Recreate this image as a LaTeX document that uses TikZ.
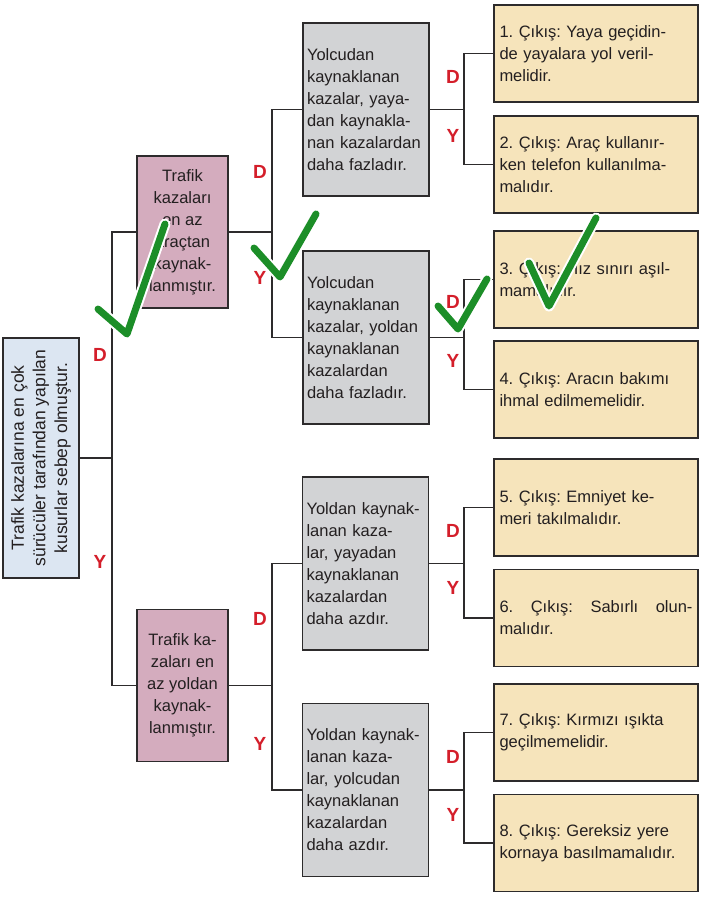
\documentclass[tikz,border=0pt]{standalone}
\usepackage{fontspec}
\setmainfont{Liberation Sans}
\frenchspacing
\definecolor{rootblue}{RGB}{220,230,242}
\definecolor{pinkbox}{RGB}{212,172,190}
\definecolor{graybox}{RGB}{210,211,213}
\definecolor{exitbox}{RGB}{246,228,187}
\definecolor{inkline}{RGB}{45,43,44}
\definecolor{textdark}{RGB}{35,31,32}
\definecolor{answerred}{RGB}{212,30,42}
\definecolor{tickgreen}{RGB}{28,142,40}
\tikzstyle{box} = [draw=inkline, line width=1.6pt, inner sep=4pt, text=textdark, font=\fontsize{16.5}{22}\selectfont\frenchspacing]
\tikzstyle{rootbox} = [box, fill=rootblue, rotate=90, minimum width=240pt, minimum height=76pt, align=center, font=\fontsize{17.5}{21.7}\selectfont\frenchspacing]
\tikzstyle{casebox} = [box, fill=pinkbox, minimum width=91pt, minimum height=152pt, align=center]
\tikzstyle{reasonbox} = [box, fill=graybox, minimum width=126pt, minimum height=173pt, text width=118pt, align=left]
\tikzstyle{exitnode} = [box, fill=exitbox, minimum width=204pt, minimum height=97pt, text width=193pt, align=left]
\tikzstyle{answer} = [text=answerred, font=\fontsize{19}{22}\selectfont\bfseries]
\tikzstyle{link} = [draw=inkline, line width=1.5pt]
\newcommand{\greentick}[3]{%
  \draw[white, line width=11pt, line cap=round, line join=round] #1 -- #2 -- #3;
  \draw[tickgreen, line width=7pt, line cap=round, line join=round] #1 -- #2 -- #3;}

\begin{document}
\begin{tikzpicture}[x=1pt, y=-1pt]
      \useasboundingbox (0,0) rectangle (707,906);
      % question boxes
      \node[rootbox] (root) at (41,458) {Trafik kazalarına en çok\\sürücüler tarafından yapılan\\kusurlar sebep olmuştur.};
      \node[casebox] (car) at (182.5,232) {Trafik\\kazaları\\en az\\araçtan\\kaynak-\\lanmıştır.};
      \node[casebox] (road) at (182.5,685.5) {Trafik ka-\\zaları en\\az yoldan\\kaynak-\\lanmıştır.};
      \node[reasonbox] (pass1) at (366,109.5) {Yolcudan\\kaynaklanan\\kazalar, yaya-\\dan kaynakla-\\nan kazalardan\\daha fazladır.};
      \node[reasonbox] (pass2) at (366,337.5) {Yolcudan\\kaynaklanan\\kazalar, yoldan\\kaynaklanan\\kazalardan\\daha fazladır.};
      \node[reasonbox] (road1) at (365.5,563.5) {Yoldan kaynak-\\lanan kaza-\\lar, yayadan\\kaynaklanan\\kazalardan\\daha azdır.};
      \node[reasonbox] (road2) at (365.5,790) {Yoldan kaynak-\\lanan kaza-\\lar, yolcudan\\kaynaklanan\\kazalardan\\daha azdır.};
      % exits
      \node[exitnode] (e1) at (596,53.5) {1. Çıkış: Yaya geçidin-\\de yayalara yol veril-\\melidir.};
      \node[exitnode] (e2) at (596,164.5) {2. Çıkış: Araç kullanır-\\ken telefon kullanılma-\\malıdır.};
      \node[exitnode] (e3) at (596,279.5) {3. Çıkış: Hız sınırı aşıl-\\mamalıdır.};
      \node[exitnode] (e4) at (596,389.5) {4. Çıkış: Aracın bakımı\\ihmal edilmemelidir.};
      \node[exitnode] (e5) at (596,507.5) {5. Çıkış: Emniyet ke-\\meri takılmalıdır.};
      \node[exitnode] (e6) at (596,618) {6.\hfill Çıkış:\hfill Sabırlı\hfill olun-\\malıdır.};
      \node[exitnode] (e7) at (596,732.5) {7. Çıkış: Kırmızı ışıkta\\geçilmemelidir.};
      \node[exitnode] (e8) at (596,843) {8. Çıkış: Gereksiz yere\\kornaya basılmamalıdır.};
      % connectors
      \coordinate (j0) at (112,458);
      \coordinate (j1) at (272,232);
      \coordinate (j2) at (272,685.5);
      \coordinate (j3) at (464,109.5);
      \coordinate (j4) at (464,337.5);
      \coordinate (j5) at (464,563.5);
      \coordinate (j6) at (464,790);
      \draw[link] (root.south) -- (j0);
      \draw[link] (car.west) -| (j0) |- (road.west);
      \draw[link] (car.east) -- (j1);
      \draw[link] (pass1.west) -| (j1) |- (pass2.west);
      \draw[link] (road.east) -- (j2);
      \draw[link] (road1.west) -| (j2) |- (road2.west);
      \draw[link] (pass1.east) -- (j3);
      \draw[link] (e1.west) -| (j3) |- (e2.west);
      \draw[link] (pass2.east) -- (j4);
      \draw[link] (e3.west) -| (j4) |- (e4.west);
      \draw[link] (road1.east) -- (j5);
      \draw[link] (e5.west) -| (j5) |- (e6.west);
      \draw[link] (road2.east) -- (j6);
      \draw[link] (e7.west) -| (j6) |- (e8.west);
      % D / Y labels
      \node[answer] (d0) at (100,355) {D};
      \node[answer] (y0) at (100,562) {Y};
      \node[answer] (d1) at (260,172) {D};
      \node[answer] (y1) at (260,278) {Y};
      \node[answer] (d2) at (260,619) {D};
      \node[answer] (y2) at (260,744) {Y};
      \node[answer] (d3) at (453,77) {D};
      \node[answer] (y3) at (453,136) {Y};
      \node[answer] (d4) at (453,302) {D};
      \node[answer] (y4) at (453,361) {Y};
      \node[answer] (d5) at (453,531) {D};
      \node[answer] (y5) at (453,588) {Y};
      \node[answer] (d6) at (453,757) {D};
      \node[answer] (y6) at (453,815) {Y};
      % ticks
      \greentick{(98,309)}{(127,334)}{(165,224)}
      \greentick{(254,248)}{(280,277)}{(316,214)}
      \greentick{(438,306)}{(458,329)}{(487,279)}
      \greentick{(529,263)}{(549,306)}{(596,218)}
    \end{tikzpicture}
\end{document}
